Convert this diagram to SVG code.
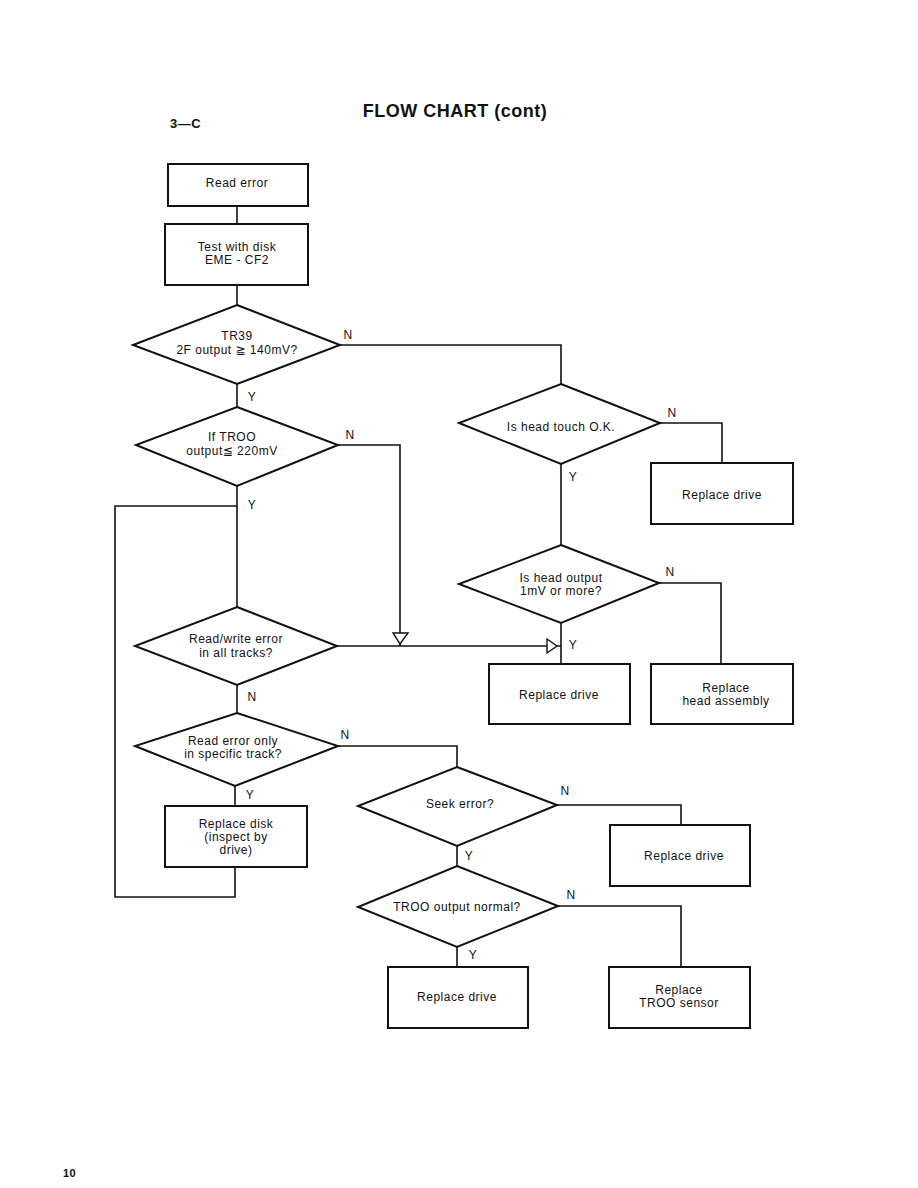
<svg xmlns="http://www.w3.org/2000/svg" width="918" height="1188" viewBox="0 0 918 1188">
<style>
.n{fill:#fff;stroke:#111;stroke-width:2}
.c{fill:none;stroke:#111;stroke-width:1.6}
text{font-family:"Liberation Sans",Arial,"DejaVu Sans",sans-serif;font-size:12px;fill:#111;text-anchor:middle;letter-spacing:0.5px}
.l{text-anchor:start}
.h{font-weight:bold}
.ah{fill:#fff;stroke:#111;stroke-width:1.4}
</style>
<rect width="918" height="1188" fill="#fff"/>
<text class="h" x="455" y="117" style="font-size:18px">FLOW CHART (cont)</text>
<text class="h l" x="170" y="128" style="font-size:13px">3—C</text>
<text class="h l" x="63" y="1177" style="font-size:11px">10</text>
<g id="connectors">
<path class="c" d="M237 206V224"/>
<path class="c" d="M237 285V305"/>
<path class="c" d="M340 345H561V384"/>
<path class="c" d="M237 384V407"/>
<path class="c" d="M338 445H400V646"/>
<path class="c" d="M237 486V607"/>
<path class="c" d="M337 646H561"/>
<path class="c" d="M561 623V664"/>
<path class="c" d="M237 685V713"/>
<path class="c" d="M338 746H457V767"/>
<path class="c" d="M235 786V806"/>
<path class="c" d="M235 867V897H115V506H237"/>
<path class="c" d="M660 423H722V463"/>
<path class="c" d="M561 464V545"/>
<path class="c" d="M659 583H721V664"/>
<path class="c" d="M557 805H681V825"/>
<path class="c" d="M457 846V866"/>
<path class="c" d="M558 906H681V967"/>
<path class="c" d="M457 947V967"/>
<polygon class="ah" points="393,633 408,633 400,644"/>
<polygon class="ah" points="547,639 547,653 557,646"/>
<text x="348" y="339">N</text>
<text x="252" y="401">Y</text>
<text x="350" y="439">N</text>
<text x="252" y="509">Y</text>
<text x="252" y="701">N</text>
<text x="345" y="739">N</text>
<text x="250" y="799">Y</text>
<text x="672" y="417">N</text>
<text x="573" y="481">Y</text>
<text x="670" y="576">N</text>
<text x="573" y="649">Y</text>
<text x="565" y="795">N</text>
<text x="469" y="860">Y</text>
<text x="571" y="899">N</text>
<text x="473" y="959">Y</text>
</g>
<g id="read-error"><rect class="n" x="168" y="164" width="140" height="42"/><text x="237" y="187">Read error</text></g>
<g id="test-disk"><rect class="n" x="165" y="224" width="143" height="61"/><text x="237" y="251">Test with disk</text><text x="237" y="264">EME - CF2</text></g>
<g id="d-tr39"><polygon class="n" points="237,305 340,345 237,384 133,345"/><text x="237" y="340">TR39</text><text x="237" y="354">2F output ≧ 140mV?</text></g>
<g id="d-troo"><polygon class="n" points="237,407 338,445 237,486 136,445"/><text x="232" y="441">If TROO</text><text x="232" y="455">output≦ 220mV</text></g>
<g id="d-rw"><polygon class="n" points="237,607 337,646 237,685 135,646"/><text x="236" y="643">Read/write error</text><text x="236" y="657">in all tracks?</text></g>
<g id="d-specific"><polygon class="n" points="237,713 338,746 235,786 135,746"/><text x="233" y="745">Read error only</text><text x="233" y="758">in specific track?</text></g>
<g id="replace-disk"><rect class="n" x="165" y="806" width="142" height="61"/><text x="236" y="828">Replace disk</text><text x="236" y="841">(inspect by</text><text x="236" y="854">drive)</text></g>
<g id="d-touch"><polygon class="n" points="561,384 660,423 561,464 459,423"/><text x="561" y="431">Is head touch O.K.</text></g>
<g id="replace-drive-1"><rect class="n" x="651" y="463" width="142" height="61"/><text x="722" y="499">Replace drive</text></g>
<g id="d-headout"><polygon class="n" points="561,545 659,583 561,623 459,584"/><text x="561" y="582">Is head output</text><text x="561" y="595">1mV or more?</text></g>
<g id="replace-drive-2"><rect class="n" x="489" y="664" width="141" height="60"/><text x="559" y="699">Replace drive</text></g>
<g id="replace-head"><rect class="n" x="651" y="664" width="142" height="60"/><text x="726" y="692">Replace</text><text x="726" y="705">head assembly</text></g>
<g id="d-seek"><polygon class="n" points="457,767 557,805 457,846 358,806"/><text x="460" y="808">Seek error?</text></g>
<g id="replace-drive-3"><rect class="n" x="610" y="825" width="140" height="61"/><text x="684" y="860">Replace drive</text></g>
<g id="d-troo-normal"><polygon class="n" points="457,866 558,906 457,947 358,907"/><text x="457" y="911">TROO output normal?</text></g>
<g id="replace-drive-4"><rect class="n" x="388" y="967" width="140" height="61"/><text x="457" y="1001">Replace drive</text></g>
<g id="replace-troo"><rect class="n" x="609" y="967" width="141" height="61"/><text x="679" y="994">Replace</text><text x="679" y="1007">TROO sensor</text></g>
</svg>
